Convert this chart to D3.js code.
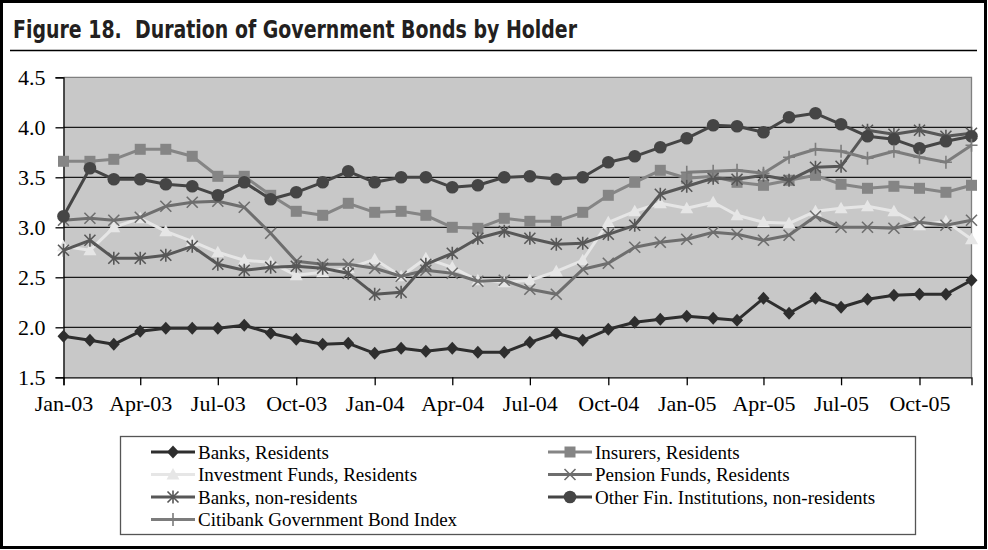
<!DOCTYPE html>
<html>
<head>
<meta charset="utf-8">
<script src="https://cdn.jsdelivr.net/npm/d3@7/dist/d3.min.js"></script>
<style>
  html, body { margin: 0; padding: 0; background: #ffffff; }
  svg { display: block; }
</style>
</head>
<body>
<svg id="chart" width="988" height="550"></svg>
<script>
// Monthly observations, Jan-03 .. Dec-05
const months = [
  "Jan-03","Feb-03","Mar-03","Apr-03","May-03","Jun-03","Jul-03","Aug-03","Sep-03","Oct-03","Nov-03","Dec-03",
  "Jan-04","Feb-04","Mar-04","Apr-04","May-04","Jun-04","Jul-04","Aug-04","Sep-04","Oct-04","Nov-04","Dec-04",
  "Jan-05","Feb-05","Mar-05","Apr-05","May-05","Jun-05","Jul-05","Aug-05","Sep-05","Oct-05","Nov-05","Dec-05"
];

const banksResidents = [1.91,1.87,1.83,1.96,1.99,1.99,1.99,2.02,1.94,1.88,1.83,1.84,
  1.74,1.79,1.76,1.79,1.75,1.75,1.85,1.94,1.87,1.98,2.05,2.08,
  2.11,2.09,2.07,2.29,2.14,2.29,2.20,2.28,2.32,2.33,2.33,2.47];

const insurersResidents = [3.66,3.66,3.68,3.78,3.78,3.71,3.51,3.51,3.32,3.16,3.12,3.24,
  3.15,3.16,3.12,3.00,2.99,3.09,3.06,3.06,3.15,3.32,3.45,3.57,
  3.49,3.51,3.45,3.42,3.47,3.52,3.43,3.39,3.41,3.39,3.35,3.42];

const investmentFunds = [2.81,2.77,3.00,3.09,2.96,2.86,2.75,2.67,2.65,2.52,2.55,2.59,
  2.68,2.51,2.69,2.60,2.47,2.45,2.47,2.56,2.67,3.05,3.16,3.24,
  3.19,3.25,3.12,3.05,3.04,3.16,3.19,3.21,3.16,3.02,3.06,2.88];

const pensionFunds = [3.07,3.09,3.07,3.10,3.21,3.25,3.26,3.20,2.94,2.66,2.63,2.63,
  2.59,2.51,2.57,2.54,2.46,2.47,2.38,2.33,2.58,2.64,2.80,2.85,
  2.88,2.95,2.93,2.87,2.92,3.11,3.00,3.00,2.99,3.05,3.02,3.07];

const banksNonResidents = [2.77,2.87,2.69,2.69,2.72,2.81,2.63,2.57,2.60,2.61,2.59,2.54,
  2.33,2.35,2.63,2.74,2.89,2.96,2.89,2.83,2.84,2.93,3.02,3.33,
  3.41,3.49,3.48,3.52,3.47,3.60,3.61,3.97,3.93,3.97,3.91,3.94];

const otherFinNonResidents = [3.11,3.59,3.48,3.48,3.43,3.41,3.32,3.45,3.28,3.35,3.45,3.56,
  3.45,3.50,3.50,3.40,3.42,3.50,3.51,3.48,3.50,3.65,3.71,3.80,
  3.89,4.02,4.01,3.95,4.10,4.14,4.03,3.91,3.88,3.79,3.86,3.91];

const citibankIndex = [null,null,null,null,null,null,null,null,null,null,null,null,
  null,null,null,null,null,null,null,null,null,null,null,null,
  3.55,3.56,3.57,3.54,3.70,3.78,3.76,3.69,3.76,3.70,3.65,3.82];

const seriesNames = [
  "Banks, Residents",
  "Insurers, Residents",
  "Investment Funds, Residents",
  "Pension Funds, Residents",
  "Banks, non-residents",
  "Other Fin. Institutions, non-residents",
  "Citibank Government Bond Index"
];

const yTicks = [1.5, 2.0, 2.5, 3.0, 3.5, 4.0, 4.5];
const xTickLabels = ["Jan-03","Apr-03","Jul-03","Oct-03","Jan-04","Apr-04","Jul-04","Oct-04",
  "Jan-05","Apr-05","Jul-05","Oct-05"];

const titleText = "Figure 18.  Duration of Government Bonds by Holder";

// ---- styling per series ----
const styles = [
  { color: "#2e2e2e", marker: "diamond" },
  { color: "#858585", marker: "square" },
  { color: "#e6e6e6", marker: "triangle" },
  { color: "#6e6e6e", marker: "x" },
  { color: "#575757", marker: "star" },
  { color: "#454545", marker: "circle" },
  { color: "#7c7c7c", marker: "plus" }
];

const parseMonth = d3.timeParse("%b-%y");
const dates = months.map(parseMonth);
const seriesValues = [banksResidents, insurersResidents, investmentFunds, pensionFunds,
  banksNonResidents, otherFinNonResidents, citibankIndex];

const svg = d3.select("#chart");

// outer frame
svg.append("rect")
  .attr("x", 1.5).attr("y", 1.5).attr("width", 984).attr("height", 546)
  .attr("fill", "#ffffff").attr("stroke", "#000").attr("stroke-width", 3);

// title
svg.append("text")
  .attr("x", 13).attr("y", 38)
  .attr("font-family", "'Liberation Sans Narrow', 'DejaVu Sans Condensed', 'Open Sans', sans-serif")
  .attr("font-weight", "bold")
  .attr("font-size", 24)
  .attr("fill", "#231f20")
  .attr("textLength", 564)
  .attr("lengthAdjust", "spacingAndGlyphs")
  .attr("xml:space", "preserve")
  .text(titleText);

svg.append("line")
  .attr("x1", 10).attr("x2", 977).attr("y1", 50.5).attr("y2", 50.5)
  .attr("stroke", "#000").attr("stroke-width", 1.3);

// ---- plot area ----
const plot = { left: 63.5, right: 971.5, top: 77.3, bottom: 377.3 };

const x = d3.scaleTime()
  .domain([dates[0], dates[dates.length - 1]])
  .range([plot.left, plot.right]);

const y = d3.scaleLinear()
  .domain([1.5, 4.5])
  .range([plot.bottom, plot.top]);

svg.append("rect")
  .attr("x", plot.left).attr("y", plot.top)
  .attr("width", plot.right - plot.left).attr("height", plot.bottom - plot.top)
  .attr("fill", "#c8c8c8");

// horizontal gridlines
svg.append("g").selectAll("line")
  .data(yTicks.filter(v => v > 1.5 && v < 4.5))
  .join("line")
  .attr("x1", plot.left).attr("x2", plot.right)
  .attr("y1", d => y(d)).attr("y2", d => y(d))
  .attr("stroke", "#1a1a1a").attr("stroke-width", 1.3);

// plot border (top & right)
svg.append("path")
  .attr("d", `M${plot.left},${plot.top}H${plot.right}V${plot.bottom}`)
  .attr("fill", "none").attr("stroke", "#808080").attr("stroke-width", 1.3);

// y axis
const yAxis = d3.axisLeft(y)
  .tickValues(yTicks)
  .tickFormat(d3.format(".1f"))
  .tickSize(8)
  .tickPadding(10);

const gy = svg.append("g")
  .attr("transform", `translate(${plot.left},0)`)
  .call(yAxis);
gy.select(".domain").attr("stroke", "#000").attr("stroke-width", 1.3);
gy.selectAll(".tick line").attr("stroke", "#000").attr("stroke-width", 1.3);
gy.selectAll(".tick text")
  .attr("font-family", "'Liberation Serif', 'Times New Roman', serif")
  .attr("font-size", 22).attr("fill", "#000");

// x axis
const xTickDates = xTickLabels.map(parseMonth);
const xAxis = d3.axisBottom(x)
  .tickValues(xTickDates)
  .tickFormat(d3.timeFormat("%b-%y"))
  .tickSize(8)
  .tickPadding(10);

const gx = svg.append("g")
  .attr("transform", `translate(0,${plot.bottom})`)
  .call(xAxis);
gx.select(".domain").attr("stroke", "#000").attr("stroke-width", 1.3);
gx.selectAll(".tick line").attr("stroke", "#000").attr("stroke-width", 1.3);
gx.selectAll(".tick text")
  .attr("font-family", "'Liberation Serif', 'Times New Roman', serif")
  .attr("font-size", 22).attr("fill", "#000");

// ---- markers ----
function drawMarker(g, type, color, cx, cy) {
  const s = 6;
  if (type === "diamond") {
    g.append("path").attr("d", `M${cx},${cy - s - 0.5}L${cx + s},${cy}L${cx},${cy + s + 0.5}L${cx - s},${cy}Z`)
      .attr("fill", color);
  } else if (type === "square") {
    g.append("rect").attr("x", cx - 5.5).attr("y", cy - 5.5).attr("width", 11).attr("height", 11)
      .attr("fill", color);
  } else if (type === "triangle") {
    g.append("path").attr("d", `M${cx},${cy - 6.5}L${cx + 6.5},${cy + 5}L${cx - 6.5},${cy + 5}Z`)
      .attr("fill", color);
  } else if (type === "circle") {
    g.append("circle").attr("cx", cx).attr("cy", cy).attr("r", 6.3).attr("fill", color);
  } else if (type === "x") {
    g.append("path").attr("d", `M${cx - 5.5},${cy - 5.5}L${cx + 5.5},${cy + 5.5}M${cx - 5.5},${cy + 5.5}L${cx + 5.5},${cy - 5.5}`)
      .attr("stroke", color).attr("stroke-width", 1.6).attr("fill", "none");
  } else if (type === "star") {
    g.append("path").attr("d", `M${cx - 5.5},${cy - 5.5}L${cx + 5.5},${cy + 5.5}M${cx - 5.5},${cy + 5.5}L${cx + 5.5},${cy - 5.5}M${cx},${cy - 6.5}L${cx},${cy + 6.5}`)
      .attr("stroke", color).attr("stroke-width", 1.6).attr("fill", "none");
  } else if (type === "plus") {
    g.append("path").attr("d", `M${cx},${cy - 6.5}L${cx},${cy + 6.5}M${cx - 6},${cy}L${cx + 6},${cy}`)
      .attr("stroke", color).attr("stroke-width", 1.6).attr("fill", "none");
  }
}

// ---- series ----
const lineGen = d3.line()
  .defined(d => d.v != null)
  .x(d => x(d.date))
  .y(d => y(d.v));

const seriesG = svg.append("g");
seriesValues.forEach((vals, i) => {
  const pts = vals.map((v, j) => ({ date: dates[j], v }));
  const g = seriesG.append("g");
  g.append("path")
    .datum(pts)
    .attr("d", lineGen)
    .attr("fill", "none")
    .attr("stroke", styles[i].color)
    .attr("stroke-width", 3)
    .attr("stroke-linejoin", "round");
  pts.filter(p => p.v != null).forEach(p => {
    drawMarker(g, styles[i].marker, styles[i].color, x(p.date), y(p.v));
  });
});

// ---- legend ----
const legend = { left: 120.5, top: 436.5, right: 915.5, bottom: 534.5 };
svg.append("rect")
  .attr("x", legend.left).attr("y", legend.top)
  .attr("width", legend.right - legend.left).attr("height", legend.bottom - legend.top)
  .attr("fill", "#ffffff").attr("stroke", "#555").attr("stroke-width", 1.3);

const rowY = [452, 474.5, 497, 519.5];
const colX = [151, 548];
seriesNames.forEach((name, i) => {
  const col = i % 2;
  const row = Math.floor(i / 2);
  const x0 = colX[col];
  const cy = rowY[row];
  const g = svg.append("g");
  g.append("line")
    .attr("x1", x0).attr("x2", x0 + 44).attr("y1", cy).attr("y2", cy)
    .attr("stroke", styles[i].color).attr("stroke-width", 3);
  drawMarker(g, styles[i].marker, styles[i].color, x0 + 22, cy);
  g.append("text")
    .attr("x", x0 + 47).attr("y", cy + 6.5)
    .attr("font-family", "'Liberation Serif', 'Times New Roman', serif")
    .attr("font-size", 19).attr("fill", "#000")
    .text(name);
});
</script>
</body>
</html>
